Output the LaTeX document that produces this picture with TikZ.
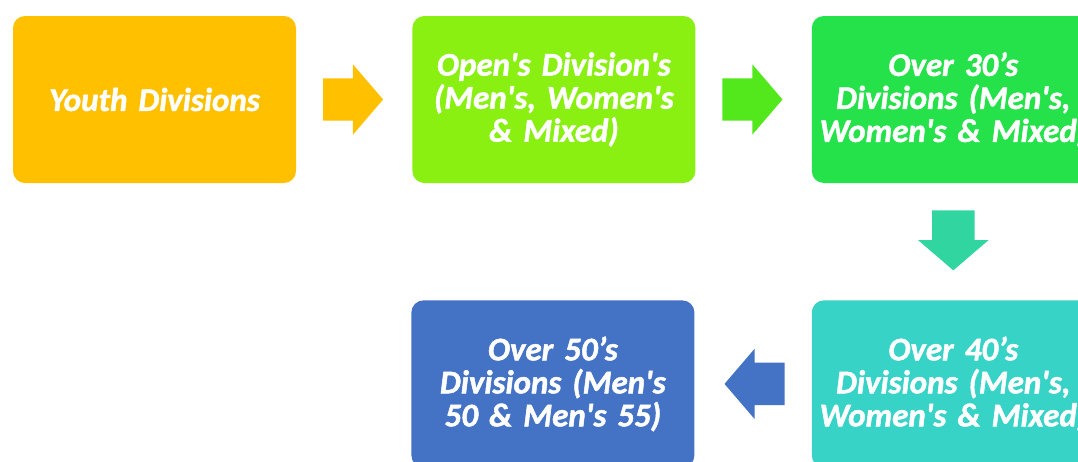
\documentclass[tikz,border=0pt]{standalone}
\usepackage{fontspec}
\newfontfamily\boxfont{Carlito Bold Italic}[Ligatures=TeXOff,FakeBold=1.5,WordSpace=0.45]
\usepackage{tikz}
\usetikzlibrary{positioning}
\usetikzlibrary{shapes.arrows}
\definecolor{youthC}{HTML}{FFC000}
\definecolor{openC}{HTML}{89F012}
\definecolor{openArrowC}{HTML}{53E81C}
\definecolor{thirtyC}{HTML}{25E24A}
\definecolor{thirtyArrowC}{HTML}{30D5A0}
\definecolor{fortyC}{HTML}{36D3C6}
\definecolor{fiftyC}{HTML}{4472C4}

\begin{document}
\begin{tikzpicture}[x=1pt,y=-1pt,
    division/.style={rectangle,rounded corners=12pt,minimum width=283pt,minimum height=167pt,
      text width=280pt,align=center,inner sep=0pt,text=white,
      font=\boxfont\fontsize{33}{33}\selectfont},
    block/.style={single arrow,minimum height=60pt,inner xsep=0pt,inner ysep=21pt,anchor=tail,pos=0.23,
      single arrow head extend=14pt,single arrow tip angle=98.8,single arrow head indent=0pt},
    blockdown/.style={block,inner xsep=21pt,inner ysep=0pt,shape border rotate=270}]
      \useasboundingbox (0,0) rectangle (1078,461);
      \clip (0,0) rectangle (1078,461);
      \node[division,fill=youthC] (youth) at (154.5,99.5) {Youth Divisions};
      \node[division,fill=openC,right=116pt of youth] (open) {Open's Division's\\(Men's, Women's\\\& Mixed)};
      \node[division,fill=thirtyC,right=116pt of open] (overThirty) {Over 30’s\\Divisions (Men's,\\Women's \& Mixed)};
      \node[division,fill=fortyC,below=117pt of overThirty] (overForty) {Over 40’s\\Divisions (Men's,\\Women's \& Mixed)};
      \node[division,fill=fiftyC,left=117pt of overForty] (overFifty) {Over 50’s\\Divisions (Men's\\50 \& Men's 55)};
      \path (youth.east) -- node[block,fill=youthC] {} (open.west);
      \path (open.east) -- node[block,fill=openArrowC] {} (overThirty.west);
      \path (overThirty.south) -- node[blockdown,fill=thirtyArrowC] {} (overForty.north);
      \path (overForty.west) -- node[block,fill=fiftyC,shape border rotate=180] {} (overFifty.east);
    \end{tikzpicture}
\end{document}
